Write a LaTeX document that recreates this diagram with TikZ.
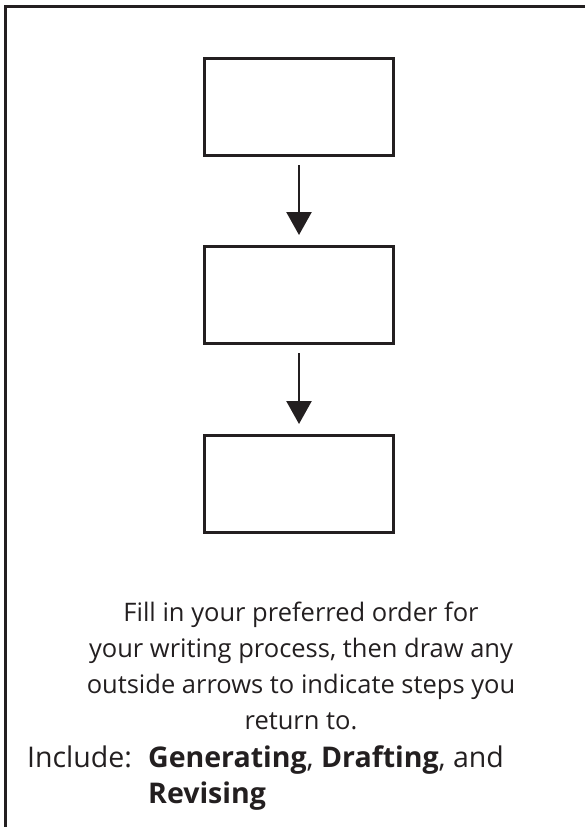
\documentclass[tikz,border=0pt]{standalone}
\usepackage{fontspec}
\setmainfont{Open Sans}
\usepackage{xcolor}
\usetikzlibrary{arrows.meta,positioning}
\definecolor{ink1}{RGB}{35,31,32}

\tikzset{
  stepbox/.style={draw=ink1, line width=3pt, minimum width=189pt, minimum height=97pt, inner sep=0pt},
  flowarrow/.style={draw=ink1, line width=2.5pt, -{Triangle[width=25pt,length=23pt]}, shorten <=8pt, shorten >=10pt},
  bodytext/.style={text=ink1, font=\fontsize{25.5}{35.7}\selectfont, inner sep=0pt},
  listtext/.style={text=ink1, font=\fontsize{28.5}{36}\selectfont, inner sep=0pt}
}

\begin{document}
\begin{tikzpicture}[x=1pt, y=-1pt]
\useasboundingbox (0,0) rectangle (585,827);

% ----- frame: top and left edges only -----
\coordinate (ftl) at (5.5,6.5);
\draw[ink1, line width=3pt] (585,6.5) -- (ftl) -- (5.5,827);

% ----- three empty step boxes -----
\node[stepbox] (box1) at (299,107) {};
\node[stepbox, below=88pt of box1] (box2) {};
\node[stepbox, below=89pt of box2] (box3) {};

\draw[flowarrow] (box1) -- (box2);
\draw[flowarrow] (box2) -- (box3);

% ----- instructions (base = last line) -----
\node[bodytext, align=center, anchor=base] (note) at (301,729)
  {Fill in your preferred order for\\
   your writing process, then draw any\\
   outside arrows to indicate steps you\\
   return to.};
\node[listtext, anchor=base west] (incl) at (27,767) {Include:};
\node[listtext, align=left, anchor=base west] (names) at (148,803)
  {\textbf{Generating}, \textbf{Drafting}, and\\
   \textbf{Revising}};

\end{tikzpicture}
\end{document}
